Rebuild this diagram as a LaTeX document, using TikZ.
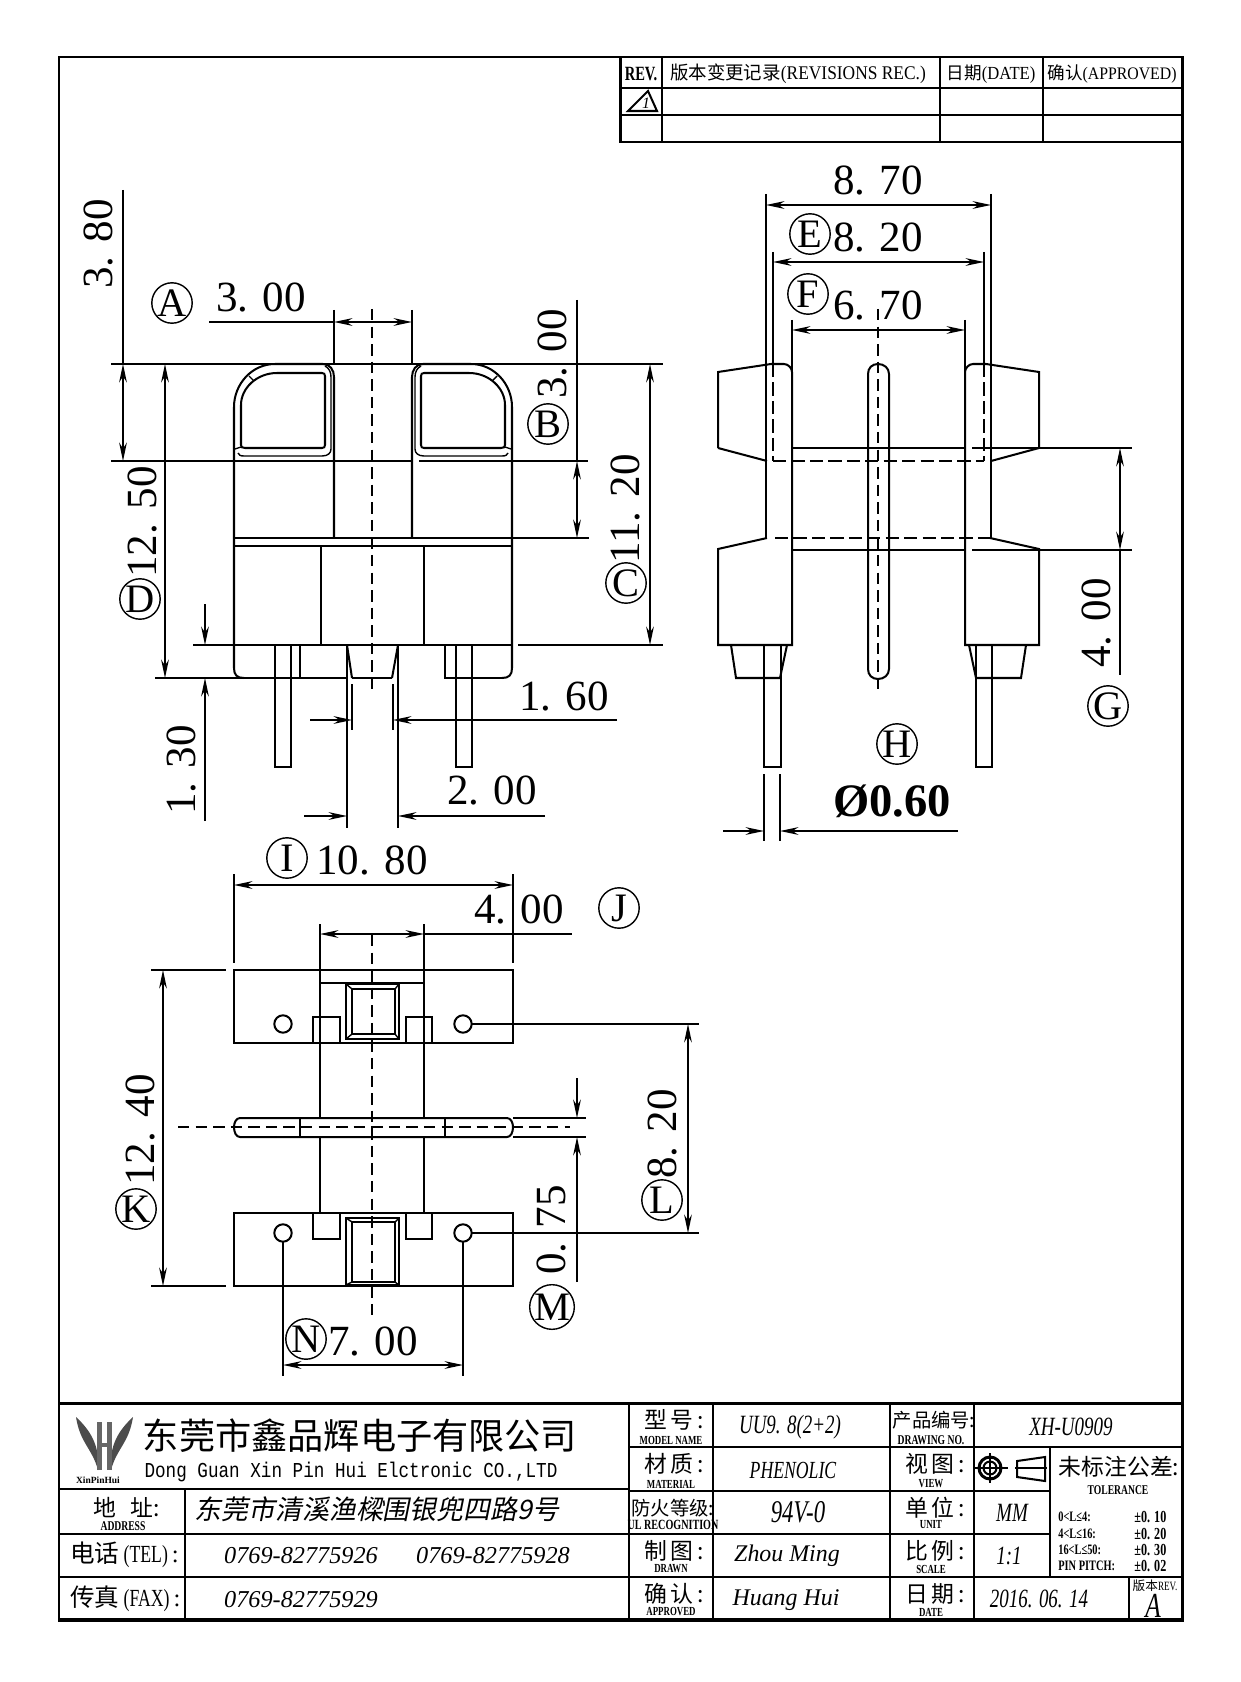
\documentclass[tikz,border=0pt]{standalone}
\usepackage{fontspec}
\usetikzlibrary{arrows.meta}
\setmainfont{Liberation Serif}
\newfontfamily\cjk{Noto Sans CJK SC}
\newfontfamily\cjkit[FakeSlant=0.2]{Noto Sans CJK SC}
\newfontfamily\narrowfont[FakeStretch=0.72]{Liberation Serif}
\newfontfamily\headfont[FakeStretch=0.9]{Liberation Serif}
\newfontfamily\monofont[FakeStretch=0.83]{Liberation Mono}
\tikzset{
	part/.style={line width=1.15pt},
	thin part/.style={line width=0.8pt},
	frameline/.style={line width=1.7pt},
	heavyline/.style={line width=2.6pt},
	dimline/.style={line width=0.8pt},
	dimarrow/.style={dimline,>={Stealth[length=10.5pt,width=4.4pt]}},
	centerline/.style={line width=0.9pt,dash pattern=on 6.5pt off 3.5pt},
	hiddenline/.style={line width=1pt,dash pattern=on 7.5pt off 3pt},
	dimtext/.style={inner sep=0pt,font=\fontsize{24.5}{24.5}\selectfont},
	dimtextv/.style={dimtext,rotate=90},
	tag/.style={draw,circle,line width=0.8pt,minimum size=23pt,inner sep=0pt,font=\fontsize{23}{23}\selectfont},
	headtext/.style={inner sep=0pt,font=\headfont\fontsize{10.5}{10.5}\selectfont},
	cjklabel/.style={inner sep=0pt,font=\cjk\fontsize{13}{13}\selectfont},
	cjkwide/.style={inner sep=0pt,font=\cjk\fontsize{11}{11}\selectfont},
	sublabel/.style={inner sep=0pt,font=\narrowfont\bfseries\fontsize{7}{7}\selectfont},
	sublabelwide/.style={sublabel,font=\narrowfont\bfseries\fontsize{7.6}{7.6}\selectfont},
	valuetext/.style={inner sep=0pt,font=\narrowfont\itshape\fontsize{15}{15}\selectfont},
	nametext/.style={inner sep=0pt,font=\itshape\fontsize{13.6}{13.6}\selectfont},
	phonetext/.style={inner sep=0pt,font=\itshape\fontsize{13.8}{13.8}\selectfont},
	toltext/.style={inner sep=0pt,font=\narrowfont\bfseries\fontsize{8.2}{8.2}\selectfont},
	tolvalue/.style={inner sep=0pt,font=\narrowfont\bfseries\fontsize{9.6}{9.6}\selectfont},
}
\begin{document}
\begin{tikzpicture}[x=0.02cm,y=-0.02cm]
	\useasboundingbox (0,0) rectangle (1240,1682);
	
	\draw[frameline] (59,57) rectangle (1182,1620);
	
	\draw[frameline] (620,57) -- (620,142) -- (1182,142);
	\draw[part] (620,88) -- (1182,88);
	\draw[part] (620,115) -- (1182,115);
	\draw[part] (662,57) -- (662,142);
	\draw[part] (940,57) -- (940,142);
	\draw[part] (1043,57) -- (1043,142);
	\draw[part] (628,111) -- (648,91) -- (657,111) -- cycle;
	\node[inner sep=0pt,font=\itshape\fontsize{9}{9}\selectfont] (revmark) at (646,103) {1};
	\node[headtext,font=\narrowfont\bfseries\fontsize{11.5}{11.5}\selectfont] (revhead) at (641,74) {REV.};
	\node[headtext,font=\headfont\fontsize{11}{11}\selectfont] (revrec) at (798,74) {{\cjk\fontsize{10.5}{10.5}\selectfont 版本变更记录}(REVISIONS REC.)};
	\node[headtext] (revdate) at (991,74) {{\cjk\fontsize{10}{10}\selectfont 日期}(DATE)};
	\node[headtext,font=\headfont\fontsize{10}{10}\selectfont] (revappr) at (1112,74) {{\cjk\fontsize{10}{10}\selectfont 确认}(APPROVED)};
	
	\draw[part] (244,678) .. controls (237,678) and (234,675) .. (234,668) -- (234,407) .. controls (234,384) and (252,364) .. (275,364) -- (323,364) .. controls (330,364) and (334,370) .. (334,377) -- (334,538);
	\draw[part] (502,678) .. controls (509,678) and (512,675) .. (512,668) -- (512,407) .. controls (512,384) and (494,364) .. (471,364) -- (423,364) .. controls (416,364) and (412,370) .. (412,377) -- (412,538);
	\draw[thin part] (238,453) .. controls (239,455) and (240,456) .. (244,456) -- (322,456) .. controls (328,456) and (331,453) .. (331,449) -- (331,377) .. controls (331,372) and (329,368) .. (325,366);
	\draw[thin part] (508,453) .. controls (507,455) and (506,456) .. (502,456) -- (424,456) .. controls (418,456) and (415,453) .. (415,449) -- (415,377) .. controls (415,372) and (417,368) .. (421,366);
	\draw[part] (241,405) .. controls (241,388) and (257,373) .. (277,373) -- (322,373) .. controls (324,373) and (325,374) .. (325,376) -- (325,445) .. controls (325,447) and (324,448) .. (322,448) -- (245,448) .. controls (242,448) and (241,447) .. (241,445) -- cycle;
	\draw[part] (505,405) .. controls (505,388) and (489,373) .. (469,373) -- (424,373) .. controls (422,373) and (421,374) .. (421,376) -- (421,445) .. controls (421,447) and (422,448) .. (424,448) -- (501,448) .. controls (504,448) and (505,447) .. (505,445) -- cycle;
	\draw[thin part] (249,376) -- (254,381);
	\draw[thin part] (497,376) -- (492,381);
	\draw[thin part] (235,449) -- (241,447);
	\draw[thin part] (511,449) -- (505,447);
	
	\draw[dimline] (111,364) -- (663,364);
	\draw[dimline] (111,461) -- (412,461);
	\draw[dimline] (419,461) -- (588,461);
	\draw[part] (234,538) -- (589,538);
	\draw[part] (234,546) -- (512,546);
	\draw[part] (193,645) -- (512,645);
	\draw[dimline] (518,645) -- (663,645);
	\draw[part] (155,678) -- (346,678);
	\draw[part] (352,678) -- (392,678);
	\draw[part] (444,678) -- (502,678);
	\draw[part] (321,546) -- (321,645);
	\draw[part] (424,546) -- (424,645);
	\draw[part] (334,310) -- (334,364);
	\draw[part] (412,310) -- (412,364);
	
	\draw[part] (275,645) -- (275,767) -- (291,767) -- (291,645);
	\draw[part] (300,645) -- (300,678);
	\draw[part] (456,645) -- (456,767) -- (472,767) -- (472,645);
	\draw[part] (445,645) -- (445,678);
	\draw[part] (347,645) -- (352,678);
	\draw[part] (398,645) -- (392,678);
	\draw[part] (347,645) -- (347,828);
	\draw[part] (398,645) -- (398,828);
	\draw[part] (352,684) -- (352,730);
	\draw[part] (393,684) -- (393,730);
	\draw[centerline] (372,309) -- (372,694);
	
	\draw[dimline] (209,322) -- (334,322);
	\draw[dimarrow,<->] (334,322) -- (412,322);
	\draw[dimline] (123,190) -- (123,364);
	\draw[dimarrow,<->] (123,364) -- (123,461);
	\draw[dimarrow,<->] (165,364) -- (165,678);
	\draw[dimarrow,->] (205,604) -- (205,645);
	\draw[dimarrow,->] (205,821) -- (205,678);
	\draw[dimline] (577,300) -- (577,461);
	\draw[dimarrow,<->] (577,461) -- (577,538);
	\draw[dimarrow,<->] (650,364) -- (650,645);
	\draw[dimarrow,->] (310,720) -- (352,720);
	\draw[dimarrow,->] (617,720) -- (393,720);
	\draw[dimarrow,->] (304,816) -- (347,816);
	\draw[dimarrow,->] (545,816) -- (398,816);
	
	\node[dimtext] (dimwin) at (261,297) {3. 00};
	\node[dimtextv] (dimtop) at (98,244) {3. 80};
	\node[dimtextv] (dimheight) at (142,522) {12. 50};
	\node[dimtextv] (dimpin) at (181,770) {1. 30};
	\node[dimtextv] (dimstep) at (552,354) {3. 00};
	\node[dimtextv] (dimbody) at (625,509) {11. 20};
	\node[dimtext] (dimslot) at (564,696) {1. 60};
	\node[dimtext] (dimslotout) at (492,790) {2. 00};
	\node[tag] (tagA) at (172,303) {A};
	\node[tag] (tagB) at (548,424) {B};
	\node[tag] (tagC) at (626,583) {C};
	\node[tag] (tagD) at (140,599) {D};
	
	\draw[part] (766,194) -- (766,538);
	\draw[part] (991,194) -- (991,538);
	\draw[part] (773,252) -- (773,364);
	\draw[part] (984,252) -- (984,364);
	\draw[part] (792,320) -- (792,372);
	\draw[part] (965,320) -- (965,372);
	\draw[hiddenline] (773,364) -- (773,461);
	\draw[hiddenline] (984,364) -- (984,461);
	\draw[hiddenline] (773,461) -- (984,461);
	\draw[hiddenline] (775,538) -- (990,538);
	\draw[part] (792,448) -- (966,448);
	\draw[part] (972,448) -- (1132,448);
	\draw[part] (792,550) -- (966,550);
	\draw[part] (972,550) -- (1132,550);
	
	\draw[part] (718,448) -- (718,372) -- (771,364) -- (784,364) .. controls (788,364) and (792,368) .. (792,372) -- (792,645) -- (718,645) -- (718,549) -- (767,538);
	\draw[part] (718,448) -- (767,461);
	\draw[part] (1039,448) -- (1039,372) -- (986,364) -- (973,364) .. controls (969,364) and (965,368) .. (965,372) -- (965,645) -- (1039,645) -- (1039,549) -- (990,538);
	\draw[part] (1039,448) -- (991,461);
	\draw[part] (868,374) .. controls (868,368) and (872,364) .. (878,364) .. controls (884,364) and (889,368) .. (889,374) -- (889,669) .. controls (889,675) and (884,679) .. (878,679) .. controls (872,679) and (868,675) .. (868,669) -- cycle;
	\draw[centerline] (878,309) -- (878,694);
	
	\draw[part] (764,645) -- (764,767) -- (781,767) -- (781,645);
	\draw[part] (976,645) -- (976,767) -- (992,767) -- (992,645);
	\draw[part] (731,645) -- (736,678) -- (780,678) -- (787,645);
	\draw[part] (1026,645) -- (1021,678) -- (976,678) -- (969,645);
	
	\draw[dimarrow,<->] (766,205) -- (991,205);
	\draw[dimarrow,<->] (773,262) -- (984,262);
	\draw[dimarrow,<->] (792,330) -- (965,330);
	\draw[dimarrow,<->] (1120,448) -- (1120,550);
	\draw[dimline] (1120,550) -- (1120,675);
	\draw[dimline] (764,774) -- (764,841);
	\draw[dimline] (780,774) -- (780,841);
	\draw[dimarrow,->] (723,831) -- (764,831);
	\draw[dimarrow,->] (958,831) -- (780,831);
	
	\node[dimtext] (dimouter) at (878,180) {8. 70};
	\node[dimtext] (dimmid) at (878,237) {8. 20};
	\node[dimtext] (diminner) at (878,305) {6. 70};
	\node[dimtextv] (dimgap) at (1096,623) {4. 00};
	\node[dimtext,font=\bfseries\fontsize{26.5}{26.5}\selectfont] (dimdia) at (892,801) {Ø0.60};
	\node[tag] (tagE) at (810,234) {E};
	\node[tag] (tagF) at (808,294) {F};
	\node[tag] (tagG) at (1108,706) {G};
	\node[tag] (tagH) at (897,744) {H};
	
	\draw[part] (234,970) rectangle (513,1043);
	\draw[part] (234,1213) rectangle (513,1286);
	\draw[part] (320,924) -- (320,1118);
	\draw[part] (424,924) -- (424,1118);
	\draw[part] (320,1137) -- (320,1213);
	\draw[part] (424,1137) -- (424,1213);
	\draw[part] (320,983) -- (424,983);
	\draw[part] (234,874) -- (234,963);
	\draw[part] (513,874) -- (513,963);
	
	\draw[part] (313,1043) -- (313,1017) -- (340,1017) -- (340,1043);
	\draw[part] (406,1043) -- (406,1017) -- (432,1017) -- (432,1043);
	\draw[part] (313,1213) -- (313,1239) -- (340,1239) -- (340,1213);
	\draw[part] (406,1213) -- (406,1239) -- (432,1239) -- (432,1213);
	
	\draw[part] (346,984) rectangle (399,1039);
	\draw[part] (352,989) rectangle (395,1034);
	\draw[part] (346,1218) rectangle (399,1285);
	\draw[part] (352,1222) rectangle (395,1282);
	\draw[thin part] (346,984) -- (352,989);
	\draw[thin part] (399,984) -- (395,989);
	\draw[thin part] (346,1039) -- (352,1034);
	\draw[thin part] (399,1039) -- (395,1034);
	\draw[thin part] (346,1218) -- (352,1222);
	\draw[thin part] (399,1218) -- (395,1222);
	\draw[thin part] (346,1285) -- (352,1282);
	\draw[thin part] (399,1285) -- (395,1282);
	
	\draw[part] (283,1024) circle[radius=8.7];
	\draw[part] (463,1024) circle[radius=8.7];
	\draw[part] (283,1233) circle[radius=8.7];
	\draw[part] (463,1233) circle[radius=8.7];
	
	\draw[part] (240,1118) -- (507,1118) .. controls (511,1118) and (513,1123) .. (513,1127) .. controls (513,1132) and (511,1137) .. (507,1137) -- (240,1137) .. controls (236,1137) and (234,1132) .. (234,1127) .. controls (234,1123) and (236,1118) .. (240,1118) -- cycle;
	\draw[part] (300,1118) -- (300,1137);
	\draw[part] (445,1118) -- (445,1137);
	\draw[dimline] (513,1118) -- (586,1118);
	\draw[dimline] (513,1137) -- (586,1137);
	\draw[centerline] (178,1127) -- (570,1127);
	\draw[centerline] (372,935) -- (372,1321);
	
	\draw[dimarrow,<->] (234,885) -- (513,885);
	\draw[dimarrow,<->] (320,934) -- (424,934);
	\draw[dimline] (424,934) -- (572,934);
	\draw[dimline] (151,970) -- (226,970);
	\draw[dimline] (151,1286) -- (226,1286);
	\draw[dimarrow,<->] (163,970) -- (163,1286);
	\draw[dimline] (472,1024) -- (699,1024);
	\draw[dimline] (472,1233) -- (699,1233);
	\draw[dimarrow,<->] (688,1024) -- (688,1233);
	\draw[dimarrow,->] (577,1078) -- (577,1118);
	\draw[dimarrow,->] (577,1282) -- (577,1137);
	\draw[dimline] (283,1242) -- (283,1376);
	\draw[dimline] (463,1242) -- (463,1376);
	\draw[dimarrow,<->] (283,1365) -- (463,1365);
	
	\node[dimtext] (dimwidth) at (372,860) {10. 80};
	\node[dimtext] (dimneck) at (519,909) {4. 00};
	\node[dimtextv] (dimlen) at (140,1130) {12. 40};
	\node[dimtextv] (dimholes) at (662,1134) {8. 20};
	\node[dimtextv] (dimbar) at (551,1230) {0. 75};
	\node[dimtext] (dimspan) at (373,1341) {7. 00};
	\node[tag] (tagI) at (287,858) {I};
	\node[tag] (tagJ) at (619,908) {J};
	\node[tag] (tagK) at (136,1209) {K};
	\node[tag] (tagL) at (662,1200) {L};
	\node[tag] (tagM) at (552,1307) {M};
	\node[tag] (tagN) at (306,1339) {N};
	
	\draw[frameline] (59,1403) -- (1182,1403);
	\draw[heavyline] (59,1620) -- (1182,1620);
	\draw[part] (59,1489) -- (629,1489);
	\draw[part] (59,1534) -- (1050,1534);
	\draw[part] (59,1577) -- (1182,1577);
	\draw[part] (629,1447) -- (1182,1447);
	\draw[part] (629,1491) -- (1050,1491);
	\draw[part] (185,1489) -- (185,1620);
	\draw[part] (629,1403) -- (629,1620);
	\draw[part] (713,1403) -- (713,1620);
	\draw[part] (890,1403) -- (890,1620);
	\draw[part] (974,1403) -- (974,1620);
	\draw[part] (1050,1447) -- (1050,1577);
	\draw[part] (1129,1577) -- (1129,1620);
	
	\fill[black!70] (76,1417) .. controls (80,1443) and (92,1448) .. (98,1470) .. controls (100,1445) and (90,1430) .. (76,1417);
	\fill[black!70] (133,1417) .. controls (129,1443) and (117,1448) .. (111,1470) .. controls (109,1445) and (119,1430) .. (133,1417);
	\fill[black!60] (97,1422) rectangle (102,1470);
	\fill[black!60] (107,1422) rectangle (112,1470);
	\fill[black!60] (97,1443) rectangle (112,1447);
	\node[inner sep=0pt,font=\bfseries\fontsize{5.4}{5.4}\selectfont] (logotext) at (98,1480) {XinPinHui};
	
	\node[inner sep=0pt,font=\cjk\fontsize{20.6}{20.6}\selectfont] (company) at (360,1436) {东莞市鑫品辉电子有限公司};
	\node[inner sep=0pt,font=\monofont\fontsize{12.1}{12.1}\selectfont] (companyen) at (351,1472) {Dong Guan Xin Pin Hui Elctronic CO.,LTD};
	\node[cjklabel] (addrlabel) at (127,1508) {地\hspace{8pt}址:};
	\node[sublabelwide] (addrsub) at (123,1526) {ADDRESS};
	\node[inner sep=0pt,font=\cjkit\fontsize{15.3}{15.3}\selectfont] (addr) at (377,1509) {东莞市清溪渔樑围银兜四路9号};
	\node[inner sep=0pt,anchor=west,font=\fontsize{14}{14}\selectfont] (tellabel) at (70,1555) {{\cjk 电话}{\narrowfont\,(TEL)\,}:};
	\node[inner sep=0pt,anchor=west,font=\fontsize{14}{14}\selectfont] (faxlabel) at (70,1599) {{\cjk 传真}{\narrowfont\,(FAX)\,}:};
	\node[phonetext] (telone) at (301,1556) {0769-82775926};
	\node[phonetext] (teltwo) at (493,1556) {0769-82775928};
	\node[phonetext] (fax) at (301,1600) {0769-82775929};
	
	\node[cjklabel] (modellabel) at (674,1420) {型\hspace{2pt}号\hspace{2pt}:};
	\node[sublabel] (modelsub) at (671,1440) {MODEL NAME};
	\node[cjklabel] (matlabel) at (674,1464) {材\hspace{2pt}质\hspace{2pt}:};
	\node[sublabel] (matsub) at (671,1484) {MATERIAL};
	\node[cjkwide] (firelabel) at (673,1508) {防火等级:};
	\node[sublabelwide,font=\narrowfont\bfseries\fontsize{8}{8}\selectfont] (firesub) at (673,1525) {UL RECOGNITION};
	\node[cjklabel] (drawnlabel) at (674,1551) {制\hspace{2pt}图\hspace{2pt}:};
	\node[sublabel] (drawnsub) at (671,1569) {DRAWN};
	\node[cjklabel] (apprlabel) at (674,1594) {确\hspace{2pt}认\hspace{2pt}:};
	\node[sublabel] (apprsub) at (671,1612) {APPROVED};
	
	\node[valuetext] (model) at (790,1427) {UU9. 8(2+2)};
	\node[valuetext,font=\narrowfont\itshape\fontsize{14}{14}\selectfont] (mat) at (793,1470) {PHENOLIC};
	\node[valuetext,font=\narrowfont\itshape\fontsize{18}{18}\selectfont] (fire) at (798,1512) {94V-0};
	\node[nametext] (drawn) at (787,1556) {Zhou Ming};
	\node[nametext] (appr) at (786,1600) {Huang Hui};
	
	\node[cjkwide] (dwglabel) at (934,1420) {产品编号:};
	\node[sublabelwide] (dwgsub) at (931,1440) {DRAWING NO.};
	\node[cjklabel] (viewlabel) at (935,1464) {视\hspace{2pt}图\hspace{2pt}:};
	\node[sublabel] (viewsub) at (931,1484) {VIEW};
	\node[cjklabel] (unitlabel) at (935,1508) {单\hspace{2pt}位\hspace{2pt}:};
	\node[sublabel] (unitsub) at (931,1525) {UNIT};
	\node[cjklabel] (scalelabel) at (935,1551) {比\hspace{2pt}例\hspace{2pt}:};
	\node[sublabel] (scalesub) at (931,1569) {SCALE};
	\node[cjklabel] (datelabel) at (935,1594) {日\hspace{2pt}期\hspace{2pt}:};
	\node[sublabel] (datesub) at (931,1612) {DATE};
	
	\node[valuetext] (dwg) at (1071,1427) {XH-U0909};
	\node[valuetext] (unit) at (1012,1513) {MM};
	\node[valuetext] (scale) at (1009,1556) {1:1};
	\node[valuetext] (date) at (1039,1599) {2016. 06. 14};
	
	\draw[frameline] (990,1468) circle[radius=11];
	\draw[part] (990,1468) circle[radius=6.5];
	\draw[part] (975,1468) -- (1008,1468);
	\draw[part] (990,1453) -- (990,1483);
	\draw[part] (1017,1461) -- (1045,1457) -- (1045,1481) -- (1017,1477) -- cycle;
	\draw[part] (1015,1468) -- (1047,1468);
	
	\node[inner sep=0pt,font=\cjk\fontsize{13}{13}\selectfont] (tollabel) at (1119,1467) {未标注公差:};
	\node[sublabelwide] (tolsub) at (1118,1490) {TOLERANCE};
	\node[toltext,anchor=west] (tolaa) at (1058,1517) {0<L≤4:};
	\node[toltext,anchor=west] (tolba) at (1058,1534) {4<L≤16:};
	\node[toltext,anchor=west] (tolca) at (1058,1550) {16<L≤50:};
	\node[toltext,anchor=west] (tolda) at (1058,1566) {PIN PITCH:};
	\node[tolvalue,anchor=west] (tolab) at (1134,1517) {±0. 10};
	\node[tolvalue,anchor=west] (tolbb) at (1134,1534) {±0. 20};
	\node[tolvalue,anchor=west] (tolcb) at (1134,1550) {±0. 30};
	\node[tolvalue,anchor=west] (toldb) at (1134,1566) {±0. 02};
	\node[inner sep=0pt,font=\narrowfont\fontsize{7.2}{7.2}\selectfont] (revlabel) at (1155,1586) {{\cjk 版本}REV.};
	\node[valuetext,font=\narrowfont\itshape\fontsize{20}{20}\selectfont] (revletter) at (1153,1606) {A};
\end{tikzpicture}
\end{document}
